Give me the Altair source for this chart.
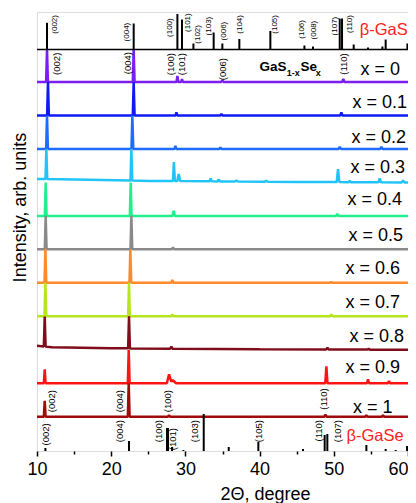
import altair as alt
import pandas as pd
import numpy as np

FONT = "Liberation Sans"

compositions = ["x = 0", "x = 0.1", "x = 0.2", "x = 0.3", "x = 0.4", "x = 0.5",
                "x = 0.6", "x = 0.7", "x = 0.8", "x = 0.9", "x = 1"]
colors = ["#7b1ff0", "#0f1bf5", "#1f6bff", "#22c4f8", "#22ee8c", "#8a8a8a",
          "#ff8a2a", "#b5e61d", "#800e1a", "#ff1414", "#a00a0a"]
widths = [2.5, 2.5, 2.5, 2.5, 3, 2.5, 2.5, 3, 3.5, 2.5, 2.5]

# measured peaks: (2theta in degrees, intensity in arb. units, half-width in degrees)
peaks_x00 = [(11.35, 400, 0.12), (23.03, 400, 0.12), (28.92, 6, 0.12), (29.54, 3, 0.12),
             (34.98, 2, 0.15), (51.28, 3, 0.15)]
peaks_x01 = [(11.48, 400, 0.12), (23.03, 400, 0.12), (28.79, 3, 0.12), (34.85, 1.5, 0.15),
             (51.02, 3, 0.15)]
peaks_x02 = [(11.35, 400, 0.12), (22.85, 400, 0.12), (28.65, 3, 0.12), (34.71, 1.5, 0.15),
             (50.80, 2, 0.15), (56.41, 2, 0.15)]
peaks_x03 = [(11.26, 400, 0.12), (22.72, 400, 0.12), (28.45, 19, 0.13), (29.10, 7, 0.2),
             (33.41, 3, 0.15), (34.49, 2, 0.15), (36.87, 1, 0.2), (40.91, 1, 0.2),
             (50.57, 13, 0.18), (52.14, 1.5, 0.15), (56.19, 4, 0.18), (59.33, 2, 0.2)]
peaks_x04 = [(11.17, 400, 0.12), (22.63, 400, 0.12), (28.42, 5, 0.15), (50.47, 2, 0.15)]
peaks_x05 = [(11.17, 400, 0.12), (22.72, 400, 0.12), (28.33, 2, 0.15)]
peaks_x06 = [(11.13, 400, 0.12), (22.58, 400, 0.12), (28.24, 3, 0.15), (49.67, 1, 0.15)]
peaks_x07 = [(11.13, 400, 0.12), (22.40, 400, 0.12), (28.24, 2, 0.15), (49.67, 2, 0.15)]
peaks_x08 = [(11.04, 30, 0.12), (22.40, 400, 0.12), (28.11, 2, 0.15), (49.14, 2, 0.15),
             (54.70, 1, 0.15)]
peaks_x09 = [(11.04, 14, 0.12), (22.36, 400, 0.12), (27.80, 9, 0.3), (28.30, 3, 0.45),
             (49.00, 17, 0.15), (54.61, 4, 0.15), (57.44, 2, 0.15)]
peaks_x10 = [(11.04, 16, 0.12), (22.36, 400, 0.12), (27.80, 1.5, 0.15), (48.87, 2, 0.15),
             (54.39, 1.5, 0.15), (56.63, 1.5, 0.15)]

# measured background levels: (2theta, arb. units)
bg_flat = [(10, 0), (60, 0)]
bg_x03 = [(10, 3.5), (25, 1.5), (45, 0.5), (60, 0)]
bg_x08 = [(10, 4), (12, 2.5), (20, 1.5), (40, 0.5), (60, 0)]

# reference patterns (sticks): 2theta, intensity
gas_pos = [11.35, 23.03, 28.92, 29.54, 31.08, 33.81, 34.98, 37.27, 41.45, 46.04, 47.20,
           50.80, 51.11, 52.68, 54.61, 56.55, 56.99, 59.92]
gas_int = [26.7, 26, 35.5, 30, 6, 17, 6, 10.5, 18.5, 4, 3, 31, 31, 5, 2, 3, 10, 6]
gase_pos = [11.13, 22.40, 27.52, 27.66, 28.20, 29.73, 32.47, 35.84, 39.83, 45.85, 48.77,
            49.13, 54.39, 56.99, 58.34, 59.87]
gase_int = [3, 10, 23, 23, 4, 1, 37, 4, 9, 2, 16, 17, 6, 2, 1, 5]

# hkl labels
gas_hkl = ["(002)", "(004)", "(100)", "(101)", "(102)", "(103)", "(006)", "(104)", "(105)",
           "(106)", "(008)", "(107)", "(110)"]
x0_hkl = ["(002)", "(004)", "(100)", "(101)", "(006)", "(110)"]
x1_hkl = ["(002)", "(004)", "(100)", "(110)"]
gase_hkl = ["(002)", "(004)", "(100)", "(101)", "(103)", "(105)", "(110)", "(107)"]

# ---- layout of the stacked panels (arb. units of the stacked axis) ----
BAND = 33.47
BASE1 = 34.3
GAS_BASE = 401.5
TOP = 439
offsets = [BASE1 + BAND * (10 - i) for i in range(11)]

gas_lab_x = [12.48, 22.09, 27.88, 30.35, 31.70, 33.18, 35.16, 37.32, 42.13, 45.77, 47.29, 50.21, 52.14]
gas_lab_y = [436, 428.3, 432.7, 437.7, 426, 434.3, 429.3, 436, 436, 431, 430.3, 434.3, 436]
x0_lab_x = [12.65, 22.24, 28.09, 29.57, 35.10, 51.40]
x0_lab_y = [398.3, 399, 398, 398, 393, 397.7]
x1_lab_x = [12.05, 21.21, 27.66, 48.70]
x1_lab_y = [61, 61, 61, 62.7]
gase_lab_x = [11.27, 21.24, 26.50, 28.37, 31.30, 39.97, 48.00, 50.60]
gase_lab_y = [27.7, 31, 31, 23, 31, 31, 31, 31]
comp_lab_x = [58.93, 59.87, 59.74, 59.60, 59.20, 59.33, 58.93, 58.93, 59.47, 58.93, 57.90]
comp_lab_y = [376, 343, 308.3, 278.3, 246, 210, 177, 143, 109.3, 77.7, 37.7]

peaks = [peaks_x00, peaks_x01, peaks_x02, peaks_x03, peaks_x04, peaks_x05,
         peaks_x06, peaks_x07, peaks_x08, peaks_x09, peaks_x10]
backgrounds = [bg_flat, bg_flat, bg_flat, bg_x03, bg_flat, bg_flat,
               bg_flat, bg_flat, bg_x08, bg_flat, bg_flat]

rows = []
for i, (name, pk, bg) in enumerate(zip(compositions, peaks, backgrounds)):
    off = offsets[i]
    cap = (GAS_BASE if i == 0 else offsets[i - 1]) - off
    bx = [p[0] for p in bg]
    by = [p[1] for p in bg]
    xs = {10.0, 60.0, *map(float, bx)}
    for p, h, w in pk:
        xs.update([p - w, p, p + w])
    for x in sorted(xs):
        if x < 10 or x > 60:
            continue
        v = float(np.interp(x, bx, by)) + sum(max(0.0, h * (1 - abs(x - p) / w)) for p, h, w in pk)
        rows.append({"comp": name, "tt": x, "y": off + min(v, cap)})
lines_df = pd.DataFrame(rows)

sticks_df = pd.DataFrame(
    [{"tt": p, "y": GAS_BASE, "yt": GAS_BASE + h} for p, h in zip(gas_pos, gas_int)]
    + [{"tt": p, "y": 0.0, "yt": h} for p, h in zip(gase_pos, gase_int)]
)

hkl_big = pd.DataFrame(
    [{"t": t, "tt": x, "y": y} for t, x, y in zip(x0_hkl, x0_lab_x, x0_lab_y)]
    + [{"t": t, "tt": x, "y": y} for t, x, y in zip(x1_hkl, x1_lab_x, x1_lab_y)]
    + [{"t": t, "tt": x, "y": y} for t, x, y in zip(gase_hkl, gase_lab_x, gase_lab_y)]
)
hkl_small = pd.DataFrame([{"t": t, "tt": x, "y": y} for t, x, y in zip(gas_hkl, gas_lab_x, gas_lab_y)])
comp_df = pd.DataFrame({"t": compositions, "tt": comp_lab_x, "y": comp_lab_y})
phase_df = pd.DataFrame({"t": ["β-GaS", "β-GaSe"], "tt": [53.49, 51.70], "y": [416.5, 10.0]})
formula_main = pd.DataFrame({"t": ["GaS", "Se"], "tt": [40.0, 45.5], "y": [380.3, 380.3]})
formula_sub = pd.DataFrame({"t": ["1-x", "x"], "tt": [43.65, 47.56], "y": [375.5, 375.5]})
rule_df = pd.DataFrame({"tt": [10], "tt2": [60], "y": [GAS_BASE]})

xs_ = alt.Scale(domain=[10, 60], nice=False, zero=False)
ys_ = alt.Scale(domain=[0, TOP], nice=False, zero=False)

x_axis = alt.Axis(
    values=[10, 15, 20, 25, 30, 35, 40, 45, 50, 55, 60],
    labelExpr="datum.value % 10 === 0 ? datum.label : ''",
    format="d",
    tickSize={"condition": {"test": "datum.value % 10 === 0", "value": 5}, "value": 3},
    labelAlign={"condition": {"test": "datum.value === 60", "value": "right"}, "value": "center"},
    tickColor="black", tickWidth=1.5, domain=False, grid=False,
    labelFontSize=18, labelFont=FONT, labelColor="black", labelPadding=4,
    labelFlush=False, labelBound=False, labelOverlap=False,
    title="2Θ, degree", titleFont=FONT, titleFontSize=18, titleFontWeight="normal",
    titleColor="black", titleX=228, titleY=48, titleBaseline="alphabetic", titleAlign="center",
)
y_axis = alt.Axis(
    ticks=False, labels=False, domain=False, grid=False,
    title="Intensity, arb. units", titleFont=FONT, titleFontSize=18, titleFontWeight="normal",
    titleColor="black", titleX=-17, titleY=195, titleAngle=270, titleAlign="center",
    titleBaseline="middle",
)

X = alt.X("tt:Q", scale=xs_, axis=x_axis)
Y = alt.Y("y:Q", scale=ys_, axis=y_axis)

lines = alt.Chart(lines_df).mark_line(strokeJoin="bevel", clip=True).encode(
    x=X, y=Y,
    color=alt.Color("comp:N", scale=alt.Scale(domain=compositions, range=colors), legend=None),
    strokeWidth=alt.StrokeWidth("comp:N", scale=alt.Scale(domain=compositions, range=widths),
                                legend=None),
)

sticks = alt.Chart(sticks_df).mark_rule(color="black", strokeWidth=2, clip=True).encode(
    x=X, y=Y, y2="yt:Q"
)
base_rule = alt.Chart(rule_df).mark_rule(color="black", strokeWidth=1.5).encode(
    x=X, x2="tt2:Q", y=Y
)
lab_big = alt.Chart(hkl_big).mark_text(
    angle=270, align="right", baseline="middle", font=FONT, fontSize=9.5, color="black"
).encode(x=X, y=Y, text="t:N")
lab_small = alt.Chart(hkl_small).mark_text(
    angle=270, align="right", baseline="middle", font=FONT, fontSize=8, color="black"
).encode(x=X, y=Y, text="t:N")
comp_lab = alt.Chart(comp_df).mark_text(
    align="right", baseline="alphabetic", font=FONT, fontSize=18, color="black"
).encode(x=X, y=Y, text="t:N")
phase_lab = alt.Chart(phase_df).mark_text(
    align="left", baseline="alphabetic", font=FONT, fontSize=16.5, color="#ff2020"
).encode(x=X, y=Y, text="t:N")
form_main = alt.Chart(formula_main).mark_text(
    align="left", baseline="alphabetic", font=FONT, fontSize=13.5, fontWeight="bold", color="black"
).encode(x=X, y=Y, text="t:N")
form_sub = alt.Chart(formula_sub).mark_text(
    align="left", baseline="alphabetic", font=FONT, fontSize=9, fontWeight="bold", color="black"
).encode(x=X, y=Y, text="t:N")

chart = alt.layer(
    lines, sticks, base_rule, lab_big, lab_small, comp_lab, phase_lab, form_main, form_sub
).properties(
    width=371, height=439,
    padding={"left": 29, "top": 4, "right": 0, "bottom": 52},
    autosize=alt.AutoSizeParams(type="none"),
).configure_view(stroke="#222222", strokeWidth=1.5).configure(font=FONT, background="white")

chart.save("out.html", embed_options={"renderer": "svg", "actions": False})
